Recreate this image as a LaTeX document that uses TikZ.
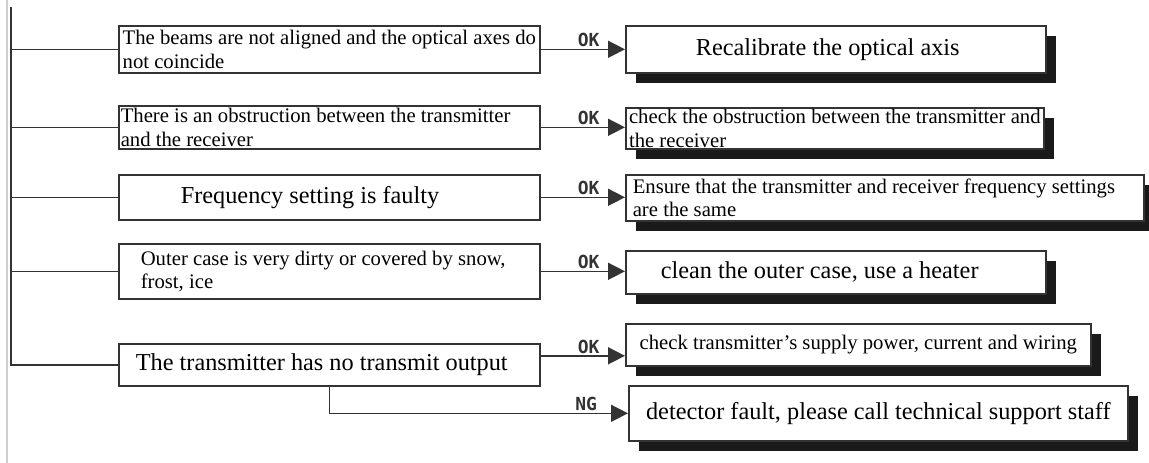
\documentclass[tikz,border=0pt]{standalone}
\usepackage{fontspec}
\setmainfont{Liberation Serif}
\newfontfamily\lblfont{DejaVu Sans Mono}
\usetikzlibrary{positioning,arrows.meta,shadows}
\definecolor{uLine}{HTML}{333333}
\definecolor{uShade}{HTML}{1A1A1A}
\definecolor{uRule}{HTML}{CFCFCF}
\tikzset{
  box/.style={draw=uLine, line width=1.6pt, fill=white, inner xsep=0pt,
              inner ysep=0pt, anchor=north west, align=flush left},
  causebox/.style={box, minimum width=421pt},
  remedy/.style={box, general shadow={fill=uShade, shadow xshift=10pt,
                 shadow yshift=-10pt}},
  smalltxt/.style={font=\fontsize{20.7}{23.5}\selectfont},
  bigtxt/.style={font=\fontsize{24.3}{27}\selectfont},
  wire/.style={line width=1.6pt, draw=uLine},
  flow/.style={wire, -{Triangle[length=17pt,width=17pt]}},
  % OK / NG sit just above the arrow, close to its head
  verdict/.style={font=\lblfont\bfseries\fontsize{18}{18}\selectfont,
                  above, inner sep=1.5pt, text=uLine},
}

\begin{document}
\begin{tikzpicture}[x=1pt, y=-1pt]

\useasboundingbox (0,0) rectangle (1149,463);

%% ── causes, down the left column ─────────────────────────────────────────
\node[causebox, smalltxt, minimum height=47pt] (l1) at (118,25)
  {The beams are not aligned and the optical axes do\\not coincide};
\node[causebox, smalltxt, minimum height=43pt, text width=417pt] (l2) at (118,105)
  {There is an obstruction between the transmitter\\and the receiver};
\node[causebox, bigtxt, minimum height=45pt, text width=297pt] (l3) at (118,174)
  {Frequency setting is faulty};
\node[causebox, smalltxt, minimum height=55pt, text width=377pt] (l4) at (118,243)
  {Outer case is very dirty or covered by snow,\\frost, ice};
\node[causebox, bigtxt, minimum height=42pt, text width=387pt] (l5) at (118,343)
  {The transmitter has no transmit output};

%% ── remedies, right column, with the heavy shadow ───────────────────────
\node[remedy, bigtxt, minimum width=420pt, minimum height=47pt, text width=280pt]
  (r1) at (625,25) {Recalibrate the optical axis};
\node[remedy, smalltxt, minimum width=418pt, minimum height=41pt] (r2) at (625,107)
  {check the obstruction between the transmitter and\\the receiver};
\node[remedy, smalltxt, minimum width=518pt, minimum height=46pt, text width=504pt]
  (r3) at (625,174)
  {Ensure that the transmitter and receiver frequency settings\\are the same};
\node[remedy, bigtxt, minimum width=420pt, minimum height=43pt, text width=350pt]
  (r4) at (625,250) {clean the outer case, use a heater};
\node[remedy, smalltxt, minimum width=465pt, minimum height=42pt] (r5) at (625,323)
  {check transmitter’s supply power, current and wiring};
\node[remedy, bigtxt, minimum width=499pt, minimum height=55pt] (r6) at (628,385)
  {detector fault, please call technical support staff};

%% ── the spine on the left feeds every cause ─────────────────────────────
\coordinate (ruletop) at (7,0);
\coordinate (rulebot) at (7,463);
\draw[uRule, line width=1.2pt] (ruletop) -- (rulebot);

\coordinate (spinetop) at (11,7);
\draw[wire] (spinetop) |- (l5.west);
\foreach \n in {l1,l2,l3,l4}
  \draw[wire] (spinetop |- \n.west) -- (\n.west);

%% ── cause -> remedy ──────────────────────────────────────────────────────
\foreach \n/\m in {l1/r1,l2/r2,l3/r3,l4/r4}
  \draw[flow] (\n.east) -- (\n.east -| \m.west) node[verdict, pos=0.57] {OK};

\coordinate (ok5) at ([yshift=9pt]l5.east);
\draw[flow] (ok5) -- (ok5 -| r5.west) node[verdict, pos=0.57] {OK};
\draw[flow] (l5.south) |- (r6.west) node[verdict, pos=0.93] {NG};

\end{tikzpicture}
\end{document}
